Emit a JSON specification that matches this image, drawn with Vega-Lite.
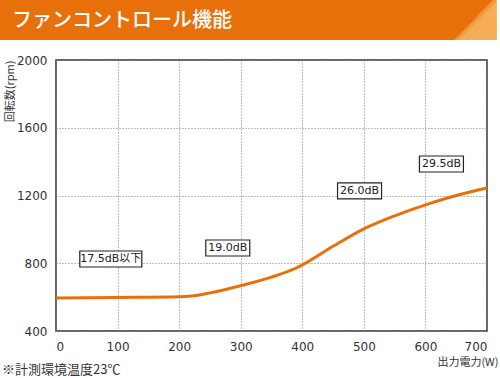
{
  "$schema": "https://vega.github.io/schema/vega-lite/v6.json",
  "width": 431,
  "height": 271,
  "autosize": {"type": "none"},
  "padding": {"left": 56, "top": 60, "right": 13, "bottom": 47},
  "background": "white",
  "config": {
    "view": {"stroke": "#333", "strokeWidth": 1.5},
    "axis": {
      "grid": true,
      "gridColor": "#808080",
      "gridDash": [1, 2],
      "gridWidth": 1,
      "ticks": false,
      "domain": false,
      "labelFont": "DejaVu Sans",
      "labelFontSize": 12,
      "labelColor": "#333",
      "titleFont": "Noto Sans CJK JP",
      "titleFontSize": 11,
      "titleFontWeight": "normal",
      "titleColor": "#333"
    }
  },
  "datasets": {
    "curve": [
      {"power": 0, "rpm": 595},
      {"power": 100, "rpm": 598},
      {"power": 200, "rpm": 602},
      {"power": 220, "rpm": 606},
      {"power": 250, "rpm": 625},
      {"power": 300, "rpm": 668},
      {"power": 350, "rpm": 718},
      {"power": 390, "rpm": 772},
      {"power": 400, "rpm": 790},
      {"power": 450, "rpm": 900},
      {"power": 500, "rpm": 1003},
      {"power": 550, "rpm": 1080},
      {"power": 600, "rpm": 1145},
      {"power": 650, "rpm": 1200},
      {"power": 700, "rpm": 1244}
    ],
    "labels": [
      {"power": 89, "rpm": 825, "label": "17.5dB以下", "kind": "long"},
      {"power": 279, "rpm": 890, "label": "19.0dB", "kind": "short"},
      {"power": 493, "rpm": 1227, "label": "26.0dB", "kind": "short"},
      {"power": 626, "rpm": 1386, "label": "29.5dB", "kind": "short"}
    ]
  },
  "layer": [
    {
      "data": {"name": "curve"},
      "mark": {"type": "line", "color": "#e8700a", "strokeWidth": 3, "interpolate": "monotone"},
      "encoding": {
        "x": {
          "field": "power",
          "type": "quantitative",
          "scale": {"domain": [0, 700], "nice": false},
          "axis": {
            "title": "出力電力(W)",
            "values": [0, 100, 200, 300, 400, 500, 600, 700],
            "format": "d",
            "labelPadding": 10,
            "titleX": 442,
            "titleY": 31,
            "titleAlign": "right",
            "titleBaseline": "middle",
            "titleAnchor": null
          }
        },
        "y": {
          "field": "rpm",
          "type": "quantitative",
          "scale": {"domain": [400, 2000], "nice": false},
          "axis": {
            "title": "回転数(rpm)",
            "values": [400, 800, 1200, 1600, 2000],
            "format": "d",
            "labelPadding": 9,
            "titleAngle": -90,
            "titleX": -46,
            "titleY": 0,
            "titleAlign": "right",
            "titleBaseline": "middle",
            "titleAnchor": null
          }
        }
      }
    },
    {
      "data": {"values": [{}]},
      "mark": {
        "type": "rect",
        "clip": false,
        "fill": {
          "gradient": "linear",
          "x1": 0, "y1": 0, "x2": 1, "y2": 0.0785,
          "stops": [
            {"offset": 0, "color": "#e8700a"},
            {"offset": 0.985, "color": "#e8700a"},
            {"offset": 0.9855, "color": "#ee8a2c"},
            {"offset": 1, "color": "#f5ae55"}
          ]
        }
      },
      "encoding": {
        "x": {"datum": -91.4, "type": "quantitative", "scale": {"domain": [0, 700], "nice": false}},
        "x2": {"datum": 716},
        "y": {"datum": 2354, "type": "quantitative", "scale": {"domain": [400, 2000], "nice": false}},
        "y2": {"datum": 2118}
      }
    },
    {
      "data": {"values": [{"title": "ファンコントロール機能"}]},
      "mark": {"type": "text", "clip": false, "font": "Noto Sans CJK JP", "fontSize": 20, "fontWeight": 500, "color": "white", "align": "left", "baseline": "middle"},
      "encoding": {
        "x": {"datum": -71.5, "type": "quantitative", "scale": {"domain": [0, 700], "nice": false}},
        "y": {"datum": 2230, "type": "quantitative", "scale": {"domain": [400, 2000], "nice": false}},
        "text": {"field": "title"}
      }
    },
    {
      "data": {"name": "labels"},
      "transform": [{"filter": "datum.kind === 'long'"}],
      "mark": {"type": "point", "filled": false, "fill": "white", "fillOpacity": 1, "stroke": "#222", "strokeWidth": 1.2, "opacity": 1, "size": 3844, "shape": "M-1,-0.258L1,-0.258L1,0.258L-1,0.258Z"},
      "encoding": {
        "x": {"field": "power", "type": "quantitative", "scale": {"domain": [0, 700], "nice": false}},
        "y": {"field": "rpm", "type": "quantitative", "scale": {"domain": [400, 2000], "nice": false}}
      }
    },
    {
      "data": {"name": "labels"},
      "transform": [{"filter": "datum.kind === 'short'"}],
      "mark": {"type": "point", "filled": false, "fill": "white", "fillOpacity": 1, "stroke": "#222", "strokeWidth": 1.2, "opacity": 1, "size": 1936, "shape": "M-1,-0.364L1,-0.364L1,0.364L-1,0.364Z"},
      "encoding": {
        "x": {"field": "power", "type": "quantitative", "scale": {"domain": [0, 700], "nice": false}},
        "y": {"field": "rpm", "type": "quantitative", "scale": {"domain": [400, 2000], "nice": false}}
      }
    },
    {
      "data": {"name": "labels"},
      "mark": {"type": "text", "font": "DejaVu Sans, Noto Sans CJK JP", "fontSize": 11, "color": "#222", "align": "center", "baseline": "middle"},
      "encoding": {
        "x": {"field": "power", "type": "quantitative", "scale": {"domain": [0, 700], "nice": false}},
        "y": {"field": "rpm", "type": "quantitative", "scale": {"domain": [400, 2000], "nice": false}},
        "text": {"field": "label"}
      }
    },
    {
      "data": {"values": [{"note": "※計測環境温度23℃"}]},
      "mark": {"type": "text", "clip": false, "font": "Noto Sans CJK JP", "fontSize": 13, "color": "#333", "align": "left", "baseline": "middle"},
      "encoding": {
        "x": {"datum": -87.7, "type": "quantitative", "scale": {"domain": [0, 700], "nice": false}},
        "y": {"datum": 170, "type": "quantitative", "scale": {"domain": [400, 2000], "nice": false}},
        "text": {"field": "note"}
      }
    }
  ]
}
